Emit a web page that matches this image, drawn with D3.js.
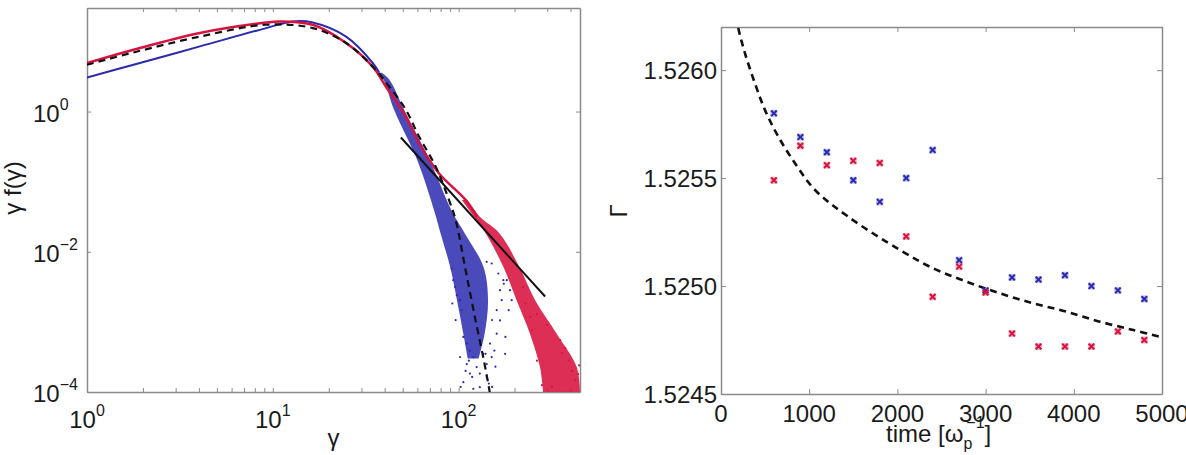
<!DOCTYPE html>
<html>
<head>
<meta charset="utf-8">
<script src="https://cdn.jsdelivr.net/npm/d3@7"></script>
<style>
body { margin: 0; background: #fff; }
text { font-family: "Liberation Sans", Arial, Helvetica, sans-serif; fill: #1a1a1a; }
</style>
</head>
<body>
<svg id="fig" width="1186" height="455"></svg>
<script>
// ---- left panel: gamma f(gamma) ----
var blueLine = [[1, 3.06], [1.78, 4.65], [4.05, 8.5], [9.2, 15.5], [12.8, 19.3], [16.4, 18.6],
  [24.8, 11.7], [34.4, 4.97], [37.4, 3.57]];
var redLine = [[1, 4.9], [1.78, 7.6], [4.05, 13.2], [9.2, 18.6], [10.9, 19.3], [16.4, 17.3],
  [24.8, 9.5], [34.4, 4.4], [40.6, 2.28], [52, 0.85], [61.2, 0.355], [78.3, 0.132],
  [109, 0.055], [126, 0.0316]];
var fitDashed = [[1, 4.65], [1.78, 6.97], [4.05, 11.75], [9.2, 17.3], [16.4, 15.5], [24.8, 9.5],
  [34.4, 4.4], [42.3, 2.28], [52, 1.06], [61.2, 0.44], [75.3, 0.164], [88.7, 0.055],
  [96.4, 0.0284], [109, 0.0055], [123.3, 1.06e-3], [136.8, 2.8e-4], [145.5, 1.17e-4], [148, 8.9e-5]];
var powerLaw = [[48.9, 0.426], [292, 0.0023]];
// [value, gamma left edge, gamma right edge] of the dense scatter clouds
var blueBand = [[3.57, 36.8, 38.6], [2.83, 39.5, 42.5], [1.05, 45, 51], [0.2, 60, 70],
  [0.038, 74, 92], [0.0183, 80, 108], [0.0061, 90, 136], [0.00204, 98, 144],
  [0.00068, 106, 138], [0.0003, 112, 128]];
var redBand = [[0.0546, 104, 111], [0.0316, 121, 130], [0.0183, 140, 166], [0.0061, 174, 212],
  [0.00204, 205, 258], [0.00068, 242, 337], [0.000227, 274, 432], [0.0001, 285, 450]];
var blueDots = [[91.8, 5.77e-3], [93.6, 3.93e-3], [95.7, 3.15e-3], [97.7, 2.4e-3], [101.8, 2.04e-3],
  [104, 1.47e-3], [106, 6.1e-4], [110.6, 4.9e-4], [115, 3.9e-4], [120, 3.15e-4], [115, 1.83e-4],
  [106, 1.38e-4], [125, 2.27e-4], [130, 1.83e-4], [141.6, 2.5e-4], [135.8, 3.5e-4],
  [147.6, 4.9e-4], [160.3, 6.8e-4], [167, 1.05e-3], [160.3, 1.47e-3], [170.6, 2.04e-3],
  [167, 2.83e-3], [174, 3.93e-3], [163.6, 4.9e-3], [150.7, 6.8e-3], [141.6, 7.2e-3],
  [181.6, 3.93e-3], [189, 2.83e-3], [193, 2.04e-3], [177.8, 3.5e-4], [130, 1.17e-4],
  [120, 1.11e-4], [110.6, 2.5e-4], [101.8, 3.15e-4], [141.6, 1.63e-4], [150.7, 3.15e-4],
  [155.7, 3.9e-4], [102.5, 1.18e-4], [118.3, 1.64e-4], [139.6, 3.5e-4], [109, 2.0e-4],
  [113.5, 2.8e-4], [151.4, 1.18e-4], [157.8, 2.3e-4], [145.5, 1.32e-4], [175, 3.5e-3],
  [186, 1.47e-3], [178.6, 6.1e-4], [151.4, 1.06e-3], [96.4, 1.06e-3], [92.5, 1.83e-3]];
var redDots = [[248, 7.6e-4], [264, 2.8e-4], [281, 1.25e-4], [391, 2.8e-4], [407, 2.0e-4],
  [375, 4.2e-4], [424, 1.47e-4], [352, 5.5e-4], [318, 1.18e-4], [243, 1.18e-3], [229, 1.83e-3],
  [222, 3.1e-3], [264, 1.3e-3], [300, 9e-4], [360, 3.6e-4], [440, 1.8e-4], [445, 2.4e-4]];
var leftXTicks = [1, 10, 100];
var leftYTicks = [1e-4, 1e-2, 1];

// ---- right panel: Gamma vs time ----
var times = [600, 900, 1200, 1500, 1800, 2100, 2400, 2700, 3000, 3300, 3600, 3900, 4200, 4500, 4800];
var blueGamma = [1.52580, 1.52569, 1.52562, 1.52549, 1.52539, 1.52550, 1.52563, 1.52512, 1.52498,
  1.52504, 1.52503, 1.52505, 1.52500, 1.52498, 1.52494];
var redGamma = [1.52549, 1.52565, 1.52556, 1.52558, 1.52557, 1.52523, 1.52495, 1.52509, 1.52497,
  1.52478, 1.52472, 1.52472, 1.52472, 1.52479, 1.52475];
var fitCurve = [[170, 1.52625], [196, 1.526194], [272, 1.526078], [385, 1.525939], [499, 1.525815],
  [650, 1.525692], [839, 1.525569], [1066, 1.525445], [1443, 1.525321], [2029, 1.525167],
  [2407, 1.525082], [2786, 1.525020], [3163, 1.524966], [3541, 1.524920], [3919, 1.524881],
  [4297, 1.524835], [4675, 1.524796], [5000, 1.524763]];
var rightXTicks = [0, 1000, 2000, 3000, 4000, 5000];
var rightYTicks = [1.5245, 1.5250, 1.5255, 1.5260];

var BLUE = "#2a2aae", RED = "#d8123e", AXIS = "#8a8a8a";
var svg = d3.select("#fig");

var leftX = d3.scaleLog().domain([1, 450]).range([87, 580]);
var leftY = d3.scaleLog().domain([1e-4, 30]).range([392, 8]);
var rightX = d3.scaleLinear().domain([0, 5000]).range([721, 1162]);
var rightY = d3.scaleLinear().domain([1.5245, 1.5262]).range([394, 27]);

function styleAxis(sel) {
  sel.select(".domain").attr("stroke", AXIS).attr("stroke-width", 1.5);
  sel.selectAll(".tick line").attr("stroke", AXIS);
}

function boxAxes(x, y, xTicks, yTicks, size) {
  var x0 = x.range()[0], x1 = x.range()[1], y0 = y.range()[0], y1 = y.range()[1];
  var g = svg.append("g");
  g.append("g").attr("transform", "translate(0," + y0 + ")")
    .call(d3.axisBottom(x).tickValues(xTicks).tickSizeInner(-size).tickSizeOuter(0).tickFormat(""))
    .call(styleAxis);
  g.append("g").attr("transform", "translate(0," + y1 + ")")
    .call(d3.axisTop(x).tickValues(xTicks).tickSizeInner(-size).tickSizeOuter(0).tickFormat(""))
    .call(styleAxis);
  g.append("g").attr("transform", "translate(" + x0 + ",0)")
    .call(d3.axisLeft(y).tickValues(yTicks).tickSizeInner(-size).tickSizeOuter(0).tickFormat(""))
    .call(styleAxis);
  g.append("g").attr("transform", "translate(" + x1 + ",0)")
    .call(d3.axisRight(y).tickValues(yTicks).tickSizeInner(-size).tickSizeOuter(0).tickFormat(""))
    .call(styleAxis);
}

function clipFor(id, x, y) {
  svg.append("clipPath").attr("id", id).append("rect")
    .attr("x", x.range()[0]).attr("y", y.range()[1])
    .attr("width", x.range()[1] - x.range()[0])
    .attr("height", y.range()[0] - y.range()[1]);
}

function powLabel(px, py, anchor, exp) {
  var t = svg.append("text").attr("x", px).attr("y", py)
    .attr("text-anchor", anchor).style("font-size", "24px");
  t.append("tspan").text("10");
  t.append("tspan").attr("dy", -12).style("font-size", "16px").text(exp);
}

// ---- left panel ----
clipFor("clipL", leftX, leftY);
var minor = [];
[1, 10, 100].forEach(function(dec) {
  for (var k = 1; k < 10; k += 1) {
    if (dec * k <= 450) minor.push(dec * k);
  }
});
boxAxes(leftX, leftY, minor, leftYTicks, 4);

var plotL = svg.append("g").attr("clip-path", "url(#clipL)");
var lineL = d3.line()
  .x(function(d) { return leftX(d[0]); })
  .y(function(d) { return leftY(d[1]); })
  .curve(d3.curveCatmullRom);
var bandL = d3.area()
  .y(function(d) { return leftY(d[0]); })
  .x0(function(d) { return leftX(d[1]); })
  .x1(function(d) { return leftX(d[2]); })
  .curve(d3.curveCatmullRom);

function dots(data, color) {
  plotL.append("g").selectAll("circle").data(data).enter().append("circle")
    .attr("cx", function(d) { return leftX(d[0]); })
    .attr("cy", function(d) { return leftY(d[1]); })
    .attr("r", 1.1).attr("fill", color);
}

plotL.append("path").datum(blueBand).attr("d", bandL)
  .attr("fill", BLUE).attr("fill-opacity", 0.85);
plotL.append("path").datum(blueLine).attr("d", lineL)
  .attr("fill", "none").attr("stroke", BLUE).attr("stroke-width", 2);
dots(blueDots, BLUE);

plotL.append("path").datum(redBand).attr("d", bandL)
  .attr("fill", RED).attr("fill-opacity", 0.88);
plotL.append("path").datum(redLine).attr("d", lineL)
  .attr("fill", "none").attr("stroke", RED).attr("stroke-width", 2.5);
dots(redDots, RED);

plotL.append("path").datum(fitDashed).attr("d", lineL)
  .attr("fill", "none").attr("stroke", "#111").attr("stroke-width", 2.2)
  .attr("stroke-dasharray", "7,5");
plotL.append("path").datum(powerLaw).attr("d", d3.line()
    .x(function(d) { return leftX(d[0]); })
    .y(function(d) { return leftY(d[1]); }))
  .attr("fill", "none").attr("stroke", "#111").attr("stroke-width", 2);

leftXTicks.forEach(function(v, i) {
  powLabel(leftX(v), 428, "middle", String(i));
});
leftYTicks.forEach(function(v) {
  var e = Math.round(Math.log10(v));
  powLabel(33, leftY(v) + 10, "start", e < 0 ? "\u2212" + (-e) : String(e));
});
svg.append("text").attr("x", d3.mean(leftX.range())).attr("y", 446)
  .attr("text-anchor", "middle").style("font-size", "24px").text("\u03b3");
svg.append("text").attr("transform", "translate(21,188) rotate(-90)")
  .attr("text-anchor", "middle").style("font-size", "24px").text("\u03b3 f(\u03b3)");

// ---- right panel ----
clipFor("clipR", rightX, rightY);
boxAxes(rightX, rightY, rightXTicks, rightYTicks, 5);
var plotR = svg.append("g").attr("clip-path", "url(#clipR)");
plotR.append("path").datum(fitCurve)
  .attr("d", d3.line()
    .x(function(d) { return rightX(d[0]); })
    .y(function(d) { return rightY(d[1]); })
    .curve(d3.curveCatmullRom))
  .attr("fill", "none").attr("stroke", "#111").attr("stroke-width", 2.6)
  .attr("stroke-dasharray", "7,5");

var cross = d3.symbol().type(d3.symbolX).size(22);
function markers(vals, color) {
  var m = plotR.append("g").selectAll("g").data(vals).enter().append("g")
    .attr("transform", function(d, i) {
      return "translate(" + rightX(times[i]) + "," + rightY(d) + ")";
    });
  m.append("rect").attr("x", -3.5).attr("y", -3.5).attr("width", 7).attr("height", 7)
    .attr("fill", color).attr("fill-opacity", 0.3);
  m.append("path").attr("d", cross)
    .attr("fill", "none").attr("stroke", color).attr("stroke-width", 2);
}
markers(blueGamma, BLUE);
markers(redGamma, RED);

rightXTicks.forEach(function(v) {
  svg.append("text").attr("x", rightX(v)).attr("y", 422)
    .attr("text-anchor", "middle").style("font-size", "24px").text(v);
});
rightYTicks.forEach(function(v) {
  svg.append("text").attr("x", 717).attr("y", rightY(v) + 9)
    .attr("text-anchor", "end").style("font-size", "24px").text(v.toFixed(4));
});
var xl = svg.append("text").attr("x", 886).attr("y", 442).style("font-size", "24px");
xl.append("tspan").text("time [\u03c9");
xl.append("tspan").attr("dy", 7).style("font-size", "16px").text("p");
xl.append("tspan").attr("dx", -6).attr("dy", -21).style("font-size", "16px").text("\u22121");
xl.append("tspan").attr("dy", 14).text("]");
svg.append("text").attr("transform", "translate(627,211) rotate(-90)")
  .attr("text-anchor", "middle").style("font-size", "24px").text("\u0393");
</script>
</body>
</html>
